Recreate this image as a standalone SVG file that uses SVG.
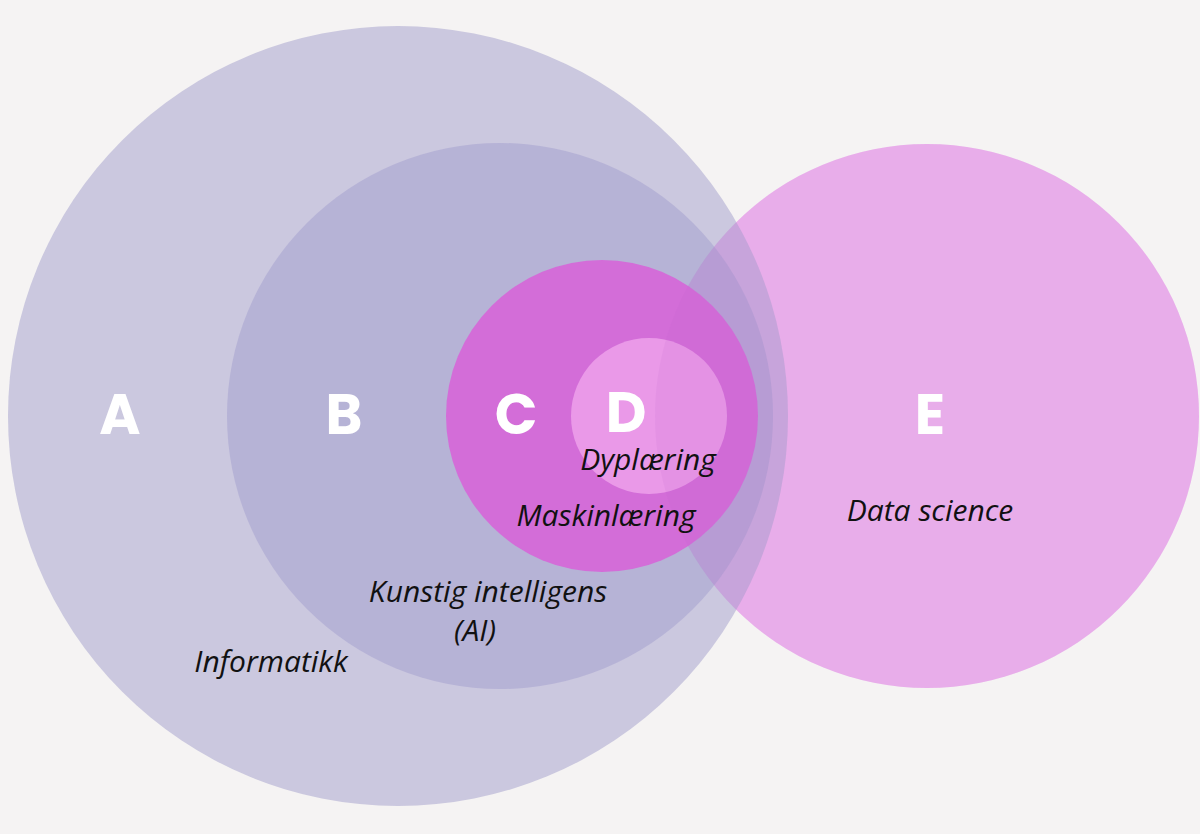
<svg xmlns="http://www.w3.org/2000/svg" width="1200" height="834" viewBox="0 0 1200 834">
<style>
.l{font-family:"Poppins","Open Sans","Liberation Sans",sans-serif;font-weight:bold;font-size:56px;fill:#fff;text-anchor:middle}
.t{font-family:"Open Sans","Liberation Sans",sans-serif;font-style:italic;font-size:30px;fill:#111;text-anchor:middle}
</style>
<rect width="1200" height="834" fill="#f5f3f3"/>
<g id="E"><circle cx="927" cy="416" r="272" fill="#efb8ef"/></g>
<g id="A"><circle cx="398" cy="416" r="390" fill="#a8a4cd" opacity="0.55"/></g>
<g id="B"><circle cx="500" cy="416" r="273" fill="#9d9acb" opacity="0.45"/></g>
<g id="C"><circle cx="602" cy="416" r="156" fill="#d860d8" opacity="0.85"/></g>
<g id="D"><circle cx="649" cy="416" r="78" fill="#f2a8ee" opacity="0.75"/></g>
<g id="E2"><circle cx="927" cy="416" r="272" fill="#c070d0" opacity="0.15"/></g>
<g id="connectors"></g>
<g id="labels">
<text class="l" x="120" y="434">A</text>
<text class="l" x="344" y="434">B</text>
<text class="l" x="516" y="434">C</text>
<text class="l" x="626" y="432">D</text>
<text class="l" x="930" y="434">E</text>
<text class="t" x="648" y="470">Dyplæring</text>
<text class="t" x="606" y="526">Maskinlæring</text>
<text class="t" x="930" y="521">Data science</text>
<text class="t" x="488" y="602">Kunstig intelligens</text>
<text class="t" x="475" y="641">(AI)</text>
<text class="t" x="271" y="672">Informatikk</text>
</g>
</svg>
